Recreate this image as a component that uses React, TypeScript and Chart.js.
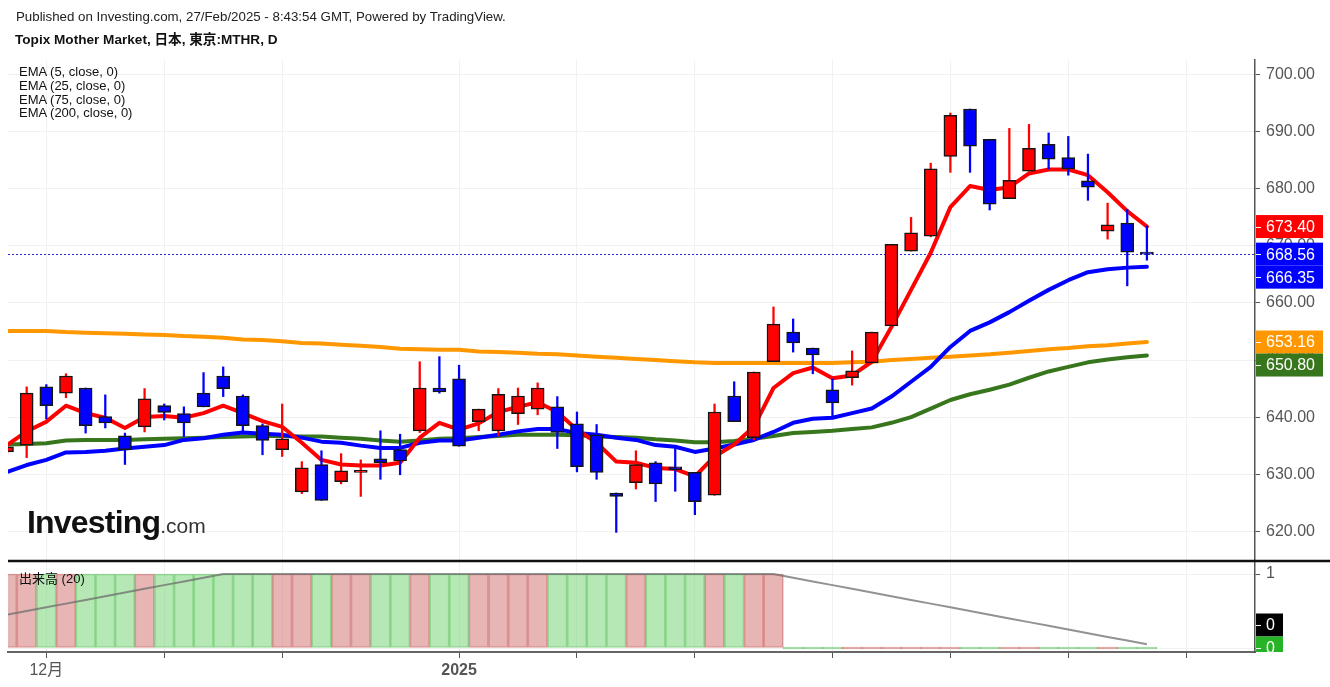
import React, { useEffect, useRef } from 'react';
import { Chart, registerables } from 'chart.js';

Chart.register(...registerables);

// ---------- data ----------
const dates = [
  '2024-11-28', '2024-11-29', '2024-12-02', '2024-12-03', '2024-12-04', '2024-12-05', '2024-12-06',
  '2024-12-09', '2024-12-10', '2024-12-11', '2024-12-12', '2024-12-13', '2024-12-16', '2024-12-17',
  '2024-12-18', '2024-12-19', '2024-12-20', '2024-12-23', '2024-12-24', '2024-12-25', '2024-12-26',
  '2024-12-27', '2024-12-30', '2025-01-06', '2025-01-07', '2025-01-08', '2025-01-09', '2025-01-10',
  '2025-01-14', '2025-01-15', '2025-01-16', '2025-01-17', '2025-01-20', '2025-01-21', '2025-01-22',
  '2025-01-23', '2025-01-24', '2025-01-27', '2025-01-28', '2025-01-29', '2025-01-30', '2025-01-31',
  '2025-02-03', '2025-02-04', '2025-02-05', '2025-02-06', '2025-02-07', '2025-02-10', '2025-02-12',
  '2025-02-13', '2025-02-14', '2025-02-17', '2025-02-18', '2025-02-19', '2025-02-20', '2025-02-21',
  '2025-02-25', '2025-02-26', '2025-02-27',
];

const opens = [
  633.9, 635.1, 645.3, 644.2, 645.1, 640.1, 636.7, 638.3, 642.0, 640.6,
  644.2, 647.2, 643.7, 638.5, 634.3, 626.9, 631.7, 628.7, 630.3, 632.7,
  634.3, 637.6, 645.1, 646.7, 639.2, 637.6, 640.6, 641.4, 641.8, 638.8,
  636.9, 626.7, 628.5, 632.0, 631.3, 630.3, 626.3, 643.7, 636.4, 649.7,
  654.9, 652.1, 644.8, 646.9, 649.5, 656.0, 669.1, 671.7, 685.7, 694.0,
  688.7, 678.3, 683.1, 687.8, 685.5, 681.4, 672.6, 674.0, 668.7,
];
const highs = [
  635.5, 645.3, 645.7, 647.6, 645.1, 643.9, 637.2, 645.0, 642.3, 641.8,
  647.8, 648.8, 643.9, 638.8, 642.3, 632.2, 634.1, 633.6, 632.5, 637.6,
  637.0, 649.7, 650.6, 649.1, 641.4, 645.0, 645.1, 646.0, 643.6, 640.9,
  638.7, 626.7, 634.1, 632.2, 634.5, 630.3, 642.3, 646.2, 647.9, 659.3,
  657.2, 652.1, 646.7, 651.6, 654.9, 670.3, 675.0, 684.5, 693.3, 694.0,
  688.7, 690.6, 691.3, 689.8, 689.2, 686.1, 677.5, 676.4, 673.5,
];
const lows = [
  633.5, 632.9, 639.7, 643.4, 637.2, 638.1, 631.7, 637.4, 639.5, 636.6,
  641.8, 643.6, 637.4, 633.4, 633.1, 626.6, 625.4, 628.3, 626.1, 629.1,
  629.9, 637.3, 644.2, 634.9, 637.6, 636.7, 638.7, 640.4, 634.5, 630.4,
  629.1, 619.8, 627.4, 625.2, 627.0, 622.9, 626.3, 639.2, 636.0, 649.7,
  651.4, 647.6, 640.1, 645.6, 649.5, 656.0, 669.1, 671.6, 682.9, 682.9,
  676.3, 678.3, 683.1, 683.5, 682.4, 678.0, 671.2, 663.0, 667.5,
];
const closes = [
  634.8, 644.2, 642.0, 647.2, 638.5, 639.0, 634.3, 643.2, 640.8, 639.0,
  641.8, 645.0, 638.5, 635.9, 636.2, 631.1, 625.4, 630.6, 630.6, 632.0,
  632.3, 645.1, 644.4, 634.9, 641.4, 644.0, 643.7, 645.1, 637.3, 631.3,
  630.3, 626.1, 631.7, 628.3, 630.8, 625.2, 640.9, 639.2, 647.9, 656.3,
  653.0, 650.9, 642.5, 648.1, 654.9, 670.3, 672.3, 683.5, 692.9, 687.5,
  677.3, 681.5, 687.1, 685.2, 683.5, 680.3, 673.7, 668.9, 668.56,
];

const ema5 = [
  635.1, 637.5, 639.2, 642.0, 640.7, 639.9, 638.1, 640.0, 640.2, 639.9,
  640.7, 642.0, 640.7, 639.3, 638.3, 635.5, 632.5, 631.7, 631.5, 631.5,
  632.0, 636.4, 639.0, 637.8, 638.9, 640.9, 641.8, 642.6, 640.9, 637.8,
  635.5, 632.2, 632.0, 631.1, 630.9, 629.6, 633.1, 635.2, 638.3, 645.1,
  647.7, 648.7, 646.8, 647.3, 649.7, 655.8, 662.3, 668.8, 676.8, 680.5,
  679.8, 680.3, 682.7, 683.4, 683.4, 682.4, 679.4, 676.1, 673.40,
];
const ema25 = [
  630.4, 631.6, 632.5, 633.8, 633.9, 634.1, 634.5, 634.8, 635.1, 636.0,
  636.3, 636.9, 637.3, 637.1, 636.9, 636.4, 635.7, 635.5, 635.0, 634.6,
  634.6, 635.5, 635.9, 635.9, 636.4, 636.9, 637.5, 637.9, 637.9, 637.2,
  636.9, 636.4, 636.0, 635.1, 634.8, 633.9, 634.5, 635.2, 636.0, 637.4,
  639.0, 639.7, 639.9, 640.7, 641.5, 643.6, 646.2, 648.8, 652.3, 655.1,
  656.6, 658.4, 660.4, 662.3, 664.0, 665.4, 665.9, 666.2, 666.35,
];
const ema75 = [
  635.2, 635.3, 635.4, 635.9, 636.0, 636.0, 636.0, 636.1, 636.2, 636.3,
  636.4, 636.5, 636.6, 636.7, 636.7, 636.6, 636.6, 636.4, 636.2, 635.9,
  635.7, 635.9, 636.2, 636.3, 636.5, 636.7, 636.9, 636.9, 636.9, 636.8,
  636.6, 636.5, 636.4, 636.1, 635.9, 635.6, 635.6, 635.8, 636.2, 636.7,
  637.2, 637.4, 637.6, 637.9, 638.2, 639.0, 640.0, 641.5, 643.0, 644.0,
  644.8, 645.7, 646.9, 648.0, 648.8, 649.6, 650.1, 650.5, 650.80,
];
const ema200 = [
  655.1, 655.1, 655.1, 654.9, 654.8, 654.7, 654.6, 654.5, 654.4, 654.2,
  654.1, 653.9, 653.6, 653.5, 653.3, 653.0, 652.9, 652.7, 652.5, 652.3,
  652.0, 651.9, 651.8, 651.8, 651.5, 651.4, 651.3, 651.1, 651.0, 650.8,
  650.6, 650.4, 650.2, 650.0, 649.8, 649.6, 649.5, 649.5, 649.5, 649.5,
  649.5, 649.5, 649.5, 649.6, 649.7, 650.0, 650.2, 650.4, 650.6, 650.8,
  651.0, 651.3, 651.6, 651.9, 652.1, 652.4, 652.6, 652.9, 653.16,
];

const volumes = [
  1, 1, 1, 1, 1, 1, 1, 1, 1, 1,
  1, 1, 1, 1, 1, 1, 1, 1, 1, 1,
  1, 1, 1, 1, 1, 1, 1, 1, 1, 1,
  1, 1, 1, 1, 1, 1, 1, 1, 1, 1,
  0, 0, 0, 0, 0, 0, 0, 0, 0, 0,
  0, 0, 0, 0, 0, 0, 0, 0, 0,
];
const volumeMA20 = [
  0.45, 0.5, 0.55, 0.6, 0.65, 0.7, 0.75, 0.8, 0.85, 0.9,
  0.95, 1, 1, 1, 1, 1, 1, 1, 1, 1,
  1, 1, 1, 1, 1, 1, 1, 1, 1, 1,
  1, 1, 1, 1, 1, 1, 1, 1, 1, 1,
  0.95, 0.9, 0.85, 0.8, 0.75, 0.7, 0.65, 0.6, 0.55, 0.5,
  0.45, 0.4, 0.35, 0.3, 0.25, 0.2, 0.15, 0.1, 0.05,
];

const priceTicks = [620, 630, 640, 650, 660, 670, 680, 690, 700];
const volumeTicks = [0, 1];
const xTickIndex = [3, 9, 15, 24, 30, 36, 43, 49, 55, 61];
const xTickLabels = ['12月', '', '', '2025', '', '', '', '', '', ''];
const legendLines = ['EMA (5, close, 0)', 'EMA (25, close, 0)', 'EMA (75, close, 0)', 'EMA (200, close, 0)'];

// ---------- styles ----------
const FONT = "'Liberation Sans', Arial, 'Noto Sans CJK JP', sans-serif";
const UP = '#ff0000';
const DOWN = '#0000ff';
const C_EMA5 = '#ff0000';
const C_EMA25 = '#0000ff';
const C_EMA75 = '#38761d';
const C_EMA200 = '#ff9800';

type Lbl = { py: number; text: string; bg: string };

function spread(items: Lbl[], h: number, maxY: number) {
  items.sort((a, b) => a.py - b.py);
  for (let i = 1; i < items.length; i++) {
    if (items[i].py < items[i - 1].py + h) items[i].py = items[i - 1].py + h;
  }
  const n = items.length;
  if (n && items[n - 1].py > maxY) {
    items[n - 1].py = maxY;
    for (let i = n - 2; i >= 0; i--) {
      if (items[i].py > items[i + 1].py - h) items[i].py = items[i + 1].py - h;
    }
  }
}

function drawLabels(ctx: CanvasRenderingContext2D, items: Lbl[], x0: number, w: number) {
  const h = 23;
  items.forEach((it) => {
    ctx.fillStyle = it.bg;
    ctx.fillRect(x0, it.py - h / 2, w, h);
    ctx.strokeStyle = '#ffffff';
    ctx.lineWidth = 1;
    ctx.beginPath();
    ctx.moveTo(x0, Math.round(it.py) + 0.5);
    ctx.lineTo(x0 + 5, Math.round(it.py) + 0.5);
    ctx.stroke();
    ctx.fillStyle = '#ffffff';
    ctx.font = `16px ${FONT}`;
    ctx.textAlign = 'left';
    ctx.textBaseline = 'middle';
    ctx.fillText(it.text, x0 + 10, it.py + 1);
  });
}

const overlayPlugin = {
  id: 'overlay',
  beforeDatasetsDraw(chart: any) {
    const { ctx, chartArea } = chart;
    const y = chart.scales.y;
    const py = Math.round(y.getPixelForValue(closes[closes.length - 1])) + 0.5;
    ctx.save();
    ctx.strokeStyle = 'rgba(0,0,200,0.85)';
    ctx.lineWidth = 1;
    ctx.setLineDash([2, 2]);
    ctx.beginPath();
    ctx.moveTo(chartArea.left, py);
    ctx.lineTo(chartArea.right, py);
    ctx.stroke();
    ctx.restore();
  },
  afterDraw(chart: any) {
    const { ctx, chartArea } = chart;
    const y = chart.scales.y;
    const yv = chart.scales.yv;
    const last = closes.length - 1;
    ctx.save();
    // pane divider
    ctx.strokeStyle = '#111111';
    ctx.lineWidth = 2.5;
    ctx.beginPath();
    ctx.moveTo(chartArea.left, y.bottom);
    ctx.lineTo(chart.width, y.bottom);
    ctx.stroke();

    const main: Lbl[] = [
      { py: y.getPixelForValue(ema5[last]), text: ema5[last].toFixed(2), bg: C_EMA5 },
      { py: y.getPixelForValue(closes[last]), text: closes[last].toFixed(2), bg: DOWN },
      { py: y.getPixelForValue(ema25[last]), text: ema25[last].toFixed(2), bg: C_EMA25 },
      { py: y.getPixelForValue(ema200[last]), text: ema200[last].toFixed(2), bg: C_EMA200 },
      { py: y.getPixelForValue(ema75[last]), text: ema75[last].toFixed(2), bg: C_EMA75 },
    ];
    spread(main, 23, y.bottom - 12);
    drawLabels(ctx, main, y.left + 1, 67);

    const vol: Lbl[] = [
      { py: yv.getPixelForValue(volumeMA20[last]), text: String(Math.round(volumeMA20[last])), bg: '#000000' },
      { py: yv.getPixelForValue(volumes[last]), text: String(Math.round(volumes[last])), bg: '#26b426' },
    ];
    spread(vol, 23, yv.getPixelForValue(0));
    ctx.save();
    ctx.beginPath();
    ctx.rect(0, yv.top, chart.width, yv.bottom - yv.top);
    ctx.clip();
    drawLabels(ctx, vol, yv.left + 1, 27);
    ctx.restore();
    ctx.restore();
  },
};

export default function App() {
  const ref = useRef<HTMLCanvasElement | null>(null);

  useEffect(() => {
    if (!ref.current) return;
    const idx = dates.map((_, i) => i + 1);
    const isUp = closes.map((c, i) => c >= opens[i]);
    const candleColor = isUp.map((u) => (u ? UP : DOWN));
    const volFill = isUp.map((u) => (u ? 'rgba(214,120,120,0.55)' : 'rgba(120,214,120,0.55)'));
    const volBorder = isUp.map((u) => (u ? 'rgba(200,90,90,0.6)' : 'rgba(80,190,80,0.6)'));

    const line = (data: number[], color: string, order: number) => ({
      type: 'line' as const,
      data: idx.map((x, i) => ({ x, y: data[i] })),
      borderColor: color,
      borderWidth: 4,
      pointRadius: 0,
      tension: 0,
      borderJoinStyle: 'round' as const,
      borderCapStyle: 'round' as const,
      yAxisID: 'y',
      order,
    });

    const gridColor = '#f1f1f1';
    const tickColor = '#555555';

    const chart = new Chart(ref.current, {
      type: 'bar',
      data: {
        datasets: [
          {
            type: 'bar',
            data: idx.map((x, i) => ({ x, y: [opens[i], closes[i]] })) as any,
            backgroundColor: candleColor,
            borderColor: '#151515',
            borderWidth: 1.5,
            borderSkipped: false,
            barThickness: 13,
            minBarLength: 2,
            grouped: false,
            yAxisID: 'y',
            order: 0,
          } as any,
          {
            type: 'bar',
            data: idx.map((x, i) => ({ x, y: [lows[i], highs[i]] })) as any,
            backgroundColor: candleColor,
            borderWidth: 0,
            barThickness: 1.6,
            grouped: false,
            yAxisID: 'y',
            order: 1,
          } as any,
          line(ema5, C_EMA5, 2),
          line(ema25, C_EMA25, 3),
          line(ema75, C_EMA75, 4),
          line(ema200, C_EMA200, 5),
          {
            type: 'line',
            data: idx.map((x, i) => ({ x, y: volumeMA20[i] })),
            borderColor: 'rgba(110,110,110,0.75)',
            borderWidth: 2,
            pointRadius: 0,
            tension: 0,
            yAxisID: 'yv',
            order: 6,
          } as any,
          {
            type: 'bar',
            data: idx.map((x, i) => ({ x, y: volumes[i] })) as any,
            backgroundColor: volFill,
            borderColor: volBorder,
            borderWidth: 1,
            borderSkipped: false,
            barPercentage: 1,
            categoryPercentage: 1,
            minBarLength: 2,
            grouped: false,
            yAxisID: 'yv',
            order: 7,
          } as any,
        ],
      },
      options: {
        responsive: false,
        animation: false,
        devicePixelRatio: 1,
        layout: { padding: { left: 8, top: 60, right: 0, bottom: 0 } },
        plugins: { legend: { display: false }, tooltip: { enabled: false } },
        scales: {
          x: {
            type: 'linear',
            position: 'bottom',
            offset: false,
            min: 1.05,
            max: 64.5,
            afterBuildTicks: (s: any) => {
              s.ticks = xTickIndex.map((v) => ({ value: v }));
            },
            afterFit: (s: any) => {
              s.height = 35;
            },
            grid: { color: gridColor, tickColor: '#555555', tickLength: 6, drawTicks: true, offset: false },
            border: { color: '#666666', width: 2 },
            ticks: {
              autoSkip: false,
              maxRotation: 0,
              padding: 3,
              color: tickColor,
              font: (c: any) => ({
                family: FONT,
                size: 16,
                weight: xTickLabels[c.index] === '2025' ? 'bold' : 'normal',
              }),
              callback: (_v: any, i: number) => xTickLabels[i] ?? '',
            },
          },
          y: {
            type: 'linear',
            position: 'right',
            stack: 'panes',
            stackWeight: 501,
            min: 614.78,
            max: 702.59,
            afterBuildTicks: (s: any) => {
              s.ticks = priceTicks.map((v) => ({ value: v }));
            },
            afterFit: (s: any) => {
              s.width = 75;
            },
            grid: { color: gridColor, tickColor: '#555555', tickLength: 5 },
            border: { color: '#555555', width: 1.5 },
            ticks: {
              padding: 6,
              color: tickColor,
              font: { family: FONT, size: 16 },
              callback: (v: any) => Number(v).toFixed(2),
            },
          },
          yv: {
            type: 'linear',
            position: 'right',
            stack: 'panes',
            stackWeight: 91,
            min: -0.054,
            max: 1.176,
            afterBuildTicks: (s: any) => {
              s.ticks = volumeTicks.map((v) => ({ value: v }));
            },
            afterFit: (s: any) => {
              s.width = 75;
            },
            grid: { color: gridColor, tickColor: '#555555', tickLength: 5 },
            border: { color: '#555555', width: 1.5 },
            ticks: {
              padding: 6,
              color: tickColor,
              font: { family: FONT, size: 16 },
              callback: (v: any) => String(v),
            },
          },
        } as any,
      },
      plugins: [overlayPlugin],
    });
    return () => chart.destroy();
  }, []);

  const textBase: React.CSSProperties = {
    position: 'absolute',
    fontFamily: FONT,
    color: '#222',
    whiteSpace: 'nowrap',
    margin: 0,
  };

  return (
    <div
      style={{
        position: 'fixed',
        left: 0,
        top: 0,
        width: 1330,
        height: 687,
        background: '#ffffff',
        overflow: 'hidden',
      }}
    >
      <canvas ref={ref} width={1330} height={687} style={{ position: 'absolute', left: 0, top: 0, width: 1330, height: 687 }} />
      <div style={{ ...textBase, left: 16, top: 9, fontSize: 13.3, lineHeight: '16px' }}>
        Published on Investing.com, 27/Feb/2025 - 8:43:54 GMT, Powered by TradingView.
      </div>
      <div style={{ ...textBase, left: 15, top: 32, fontSize: 13.6, lineHeight: '16px', fontWeight: 'bold', color: '#111' }}>
        Topix Mother Market, 日本, 東京:MTHR, D
      </div>
      {legendLines.map((t, i) => (
        <div key={t} style={{ ...textBase, left: 19, top: 65 + i * 13.8, fontSize: 13, lineHeight: '14px', color: '#111' }}>
          {t}
        </div>
      ))}
      <div style={{ ...textBase, left: 19, top: 571, fontSize: 13, lineHeight: '16px', color: '#111' }}>出来高 (20)</div>
      <div style={{ ...textBase, left: 27, top: 506, lineHeight: '32px', color: '#111' }}>
        <span style={{ fontSize: 32, fontWeight: 'bold', letterSpacing: -0.8 }}>Investing</span>
        <span style={{ fontSize: 21, color: '#333' }}>.com</span>
      </div>
    </div>
  );
}
